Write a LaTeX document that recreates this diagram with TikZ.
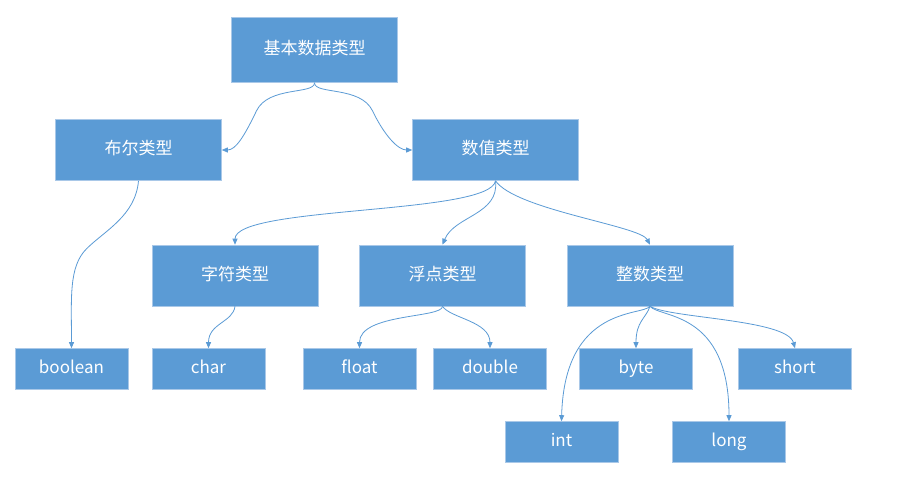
\documentclass[tikz,border=0pt]{standalone}
\usepackage{fontspec}
\setmainfont{Noto Sans CJK SC}
\usetikzlibrary{arrows.meta}
\definecolor{boxfill}{HTML}{5B9BD5}
\definecolor{boxline}{HTML}{A9C8E8}
\definecolor{conncol}{HTML}{5B9BD5}
\begin{document}
\begin{tikzpicture}[x=1pt,y=-1pt,
  box/.style={draw=boxline,line width=0.6pt,fill=boxfill,text=white,inner sep=0pt,text height=13pt,text depth=4pt,font=\fontsize{17}{19}\selectfont},
  bigbox/.style={box,minimum width=166pt,minimum height=61pt},
  topbox/.style={box,minimum width=166pt,minimum height=65pt},
  leaf/.style={box,minimum width=113pt,minimum height=41pt},
  conn/.style={draw=conncol,line width=0.8pt,-{Triangle[length=6pt,width=5pt]}}]
\fill[white] (0,0) rectangle (924,483);
\node[topbox] (root) at (314.5,50) {基本数据类型};
\node[bigbox] (bool) at (138.5,150) {布尔类型};
\node[bigbox] (num) at (495.5,150) {数值类型};
\node[bigbox] (chart) at (235,275.5) {字符类型};
\node[bigbox] (floatt) at (442.5,275.5) {浮点类型};
\node[bigbox] (intt) at (650,275.5) {整数类型};
\node[leaf] (boolean) at (71.5,369) {boolean};
\node[leaf] (char) at (208.5,369) {char};
\node[leaf] (float) at (359.5,369) {float};
\node[leaf] (double) at (490,369) {double};
\node[leaf] (byte) at (636,369) {byte};
\node[leaf] (short) at (795,369) {short};
\node[leaf] (int) at (561.5,442) {int};
\node[leaf] (long) at (729,442) {long};
% root
\draw[conn] (root.south) .. controls +(0,12) and +(12,-25) .. ++(-58,28) .. controls +(-12,25) and +(14,0) .. (bool.east);
\draw[conn] (root.south) .. controls +(0,12) and +(-12,-25) .. ++(58,28) .. controls +(12,25) and +(-14,0) .. (num.west);
% num
\draw[conn] (num.south) .. controls +(-5,34) and +(0,-39) .. (chart.north);
\draw[conn] (num.south) .. controls +(4,34) and +(12,-29) .. (floatt.north);
\draw[conn] (num.south) .. controls +(20,29) and +(-10,-19) .. (intt.north);
% bool
\draw[conn] (bool.south) .. controls +(-3,35) and +(18,-18) .. ++(-52,68) .. controls +(-18,18) and +(0,-50) .. (boolean.north);
% char
\draw[conn] (chart.south) .. controls +(-2,16) and +(0,-25) .. (char.north);
% float
\draw[conn] (floatt.south) .. controls +(0,12) and +(0,-35) .. (float.north);
\draw[conn] (floatt.south) .. controls +(8,12) and +(0,-27) .. (double.north);
% int
\draw[conn] (intt.south) .. controls +(-8,10) and +(3,-116) .. (int.north);
\draw[conn] (intt.south) .. controls +(-4,12) and +(0,-27) .. (byte.north);
\draw[conn] (intt.south) .. controls +(10,12) and +(0,-111) .. (long.north);
\draw[conn] (intt.south) .. controls +(20,12) and +(-8,-29) .. (short.north);
\end{tikzpicture}
\end{document}
